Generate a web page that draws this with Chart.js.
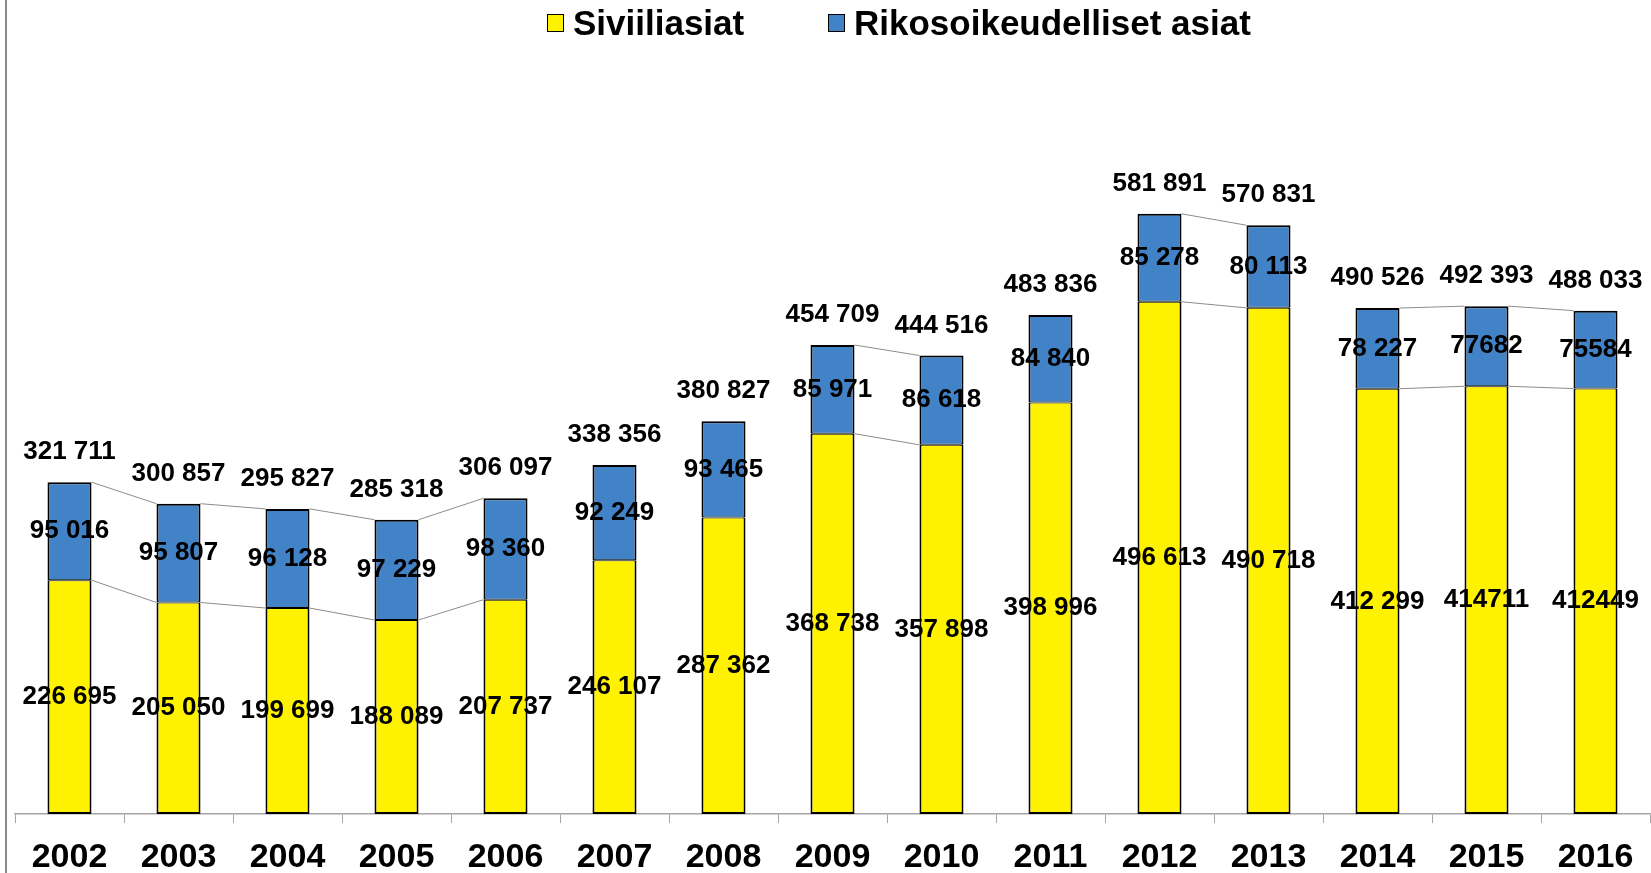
<!DOCTYPE html>
<html lang="fi">
<head>
<meta charset="utf-8">
<script src="https://cdn.jsdelivr.net/npm/chart.js@4.4.1/dist/chart.umd.min.js"></script>
<style>
  body { margin: 0; background: #fff; }
  #wrap { position: relative; width: 1651px; height: 873px; font-family: "Liberation Sans", Arial, sans-serif; }
  #kehys { position: absolute; left: 5px; top: 0; bottom: 0; border-left: 2px solid #8a8a8a; }
  .item { position: absolute; top: 3px; display: flex; align-items: center; font-weight: bold; font-size: 35px; line-height: 40px; color: #000; white-space: nowrap; }
  .box { width: 15px; height: 16px; border: 1.5px solid #000; margin-right: 9px; }
</style>
</head>
<body>
<div id="wrap">
  <canvas id="kaavio"></canvas>
  <div id="kehys"></div>
  <div id="legend"></div>
</div>
<script>
const VUODET = ['2002', '2003', '2004', '2005', '2006', '2007', '2008', '2009', '2010', '2011', '2012', '2013', '2014', '2015', '2016'];
const SIVIILI = [226695, 205050, 199699, 188089, 207737, 246107, 287362, 368738, 357898, 398996, 496613, 490718, 412299, 414711, 412449];
const RIKOS = [95016, 95807, 96128, 97229, 98360, 92249, 93465, 85971, 86618, 84840, 85278, 80113, 78227, 77682, 75584];
const YHTEENSA = [321711, 300857, 295827, 285318, 306097, 338356, 380827, 454709, 444516, 483836, 581891, 570831, 490526, 492393, 488033];
// näissä vuosissa osien luvut on kirjoitettu ilman välilyöntiä
const ILMAN_VALIA = ['2015', '2016'];
// sarjaviivat vain näiden vuosien väliin (alkuperäinen on koottu useasta kuvasta)
const VIIVAT_ALKAEN = ['2002', '2003', '2004', '2005', '2009', '2012', '2014', '2015'];

const FONTTI = '"Liberation Sans", Arial, sans-serif';
const SARJAT = [
  { nimi: 'Siviiliasiat', data: SIVIILI, vari: '#FFF200', vasen: 547, reuna: { top: 1, left: 2, right: 2, bottom: 2 } },
  { nimi: 'Rikosoikeudelliset asiat', data: RIKOS, vari: '#4282C6', vasen: 828, reuna: { top: 2, left: 2, right: 2, bottom: 1 } },
];

function muotoile(arvo, vali) {
  const s = String(arvo);
  if (!vali) return s;
  return s.replace(/\B(?=(\d{3})+(?!\d))/g, ' ');
}

const sarjaviivat = {
  id: 'sarjaviivat',
  afterDatasetsDraw(chart) {
    const { ctx } = chart;
    ctx.save();
    ctx.strokeStyle = '#8c8c8c';
    ctx.lineWidth = 1;
    chart.data.datasets.forEach((ds, di) => {
      const palkit = chart.getDatasetMeta(di).data;
      for (let i = 0; i < palkit.length - 1; i++) {
        if (!VIIVAT_ALKAEN.includes(VUODET[i])) continue;
        const a = palkit[i], b = palkit[i + 1];
        ctx.beginPath();
        ctx.moveTo(a.x + a.width / 2, a.y);
        ctx.lineTo(b.x - b.width / 2, b.y);
        ctx.stroke();
      }
    });
    ctx.restore();
  }
};

const arvoTekstit = {
  id: 'arvoTekstit',
  afterDatasetsDraw(chart) {
    const { ctx, scales: { x, y } } = chart;
    ctx.save();
    ctx.font = `bold 26px ${FONTTI}`;
    ctx.fillStyle = '#000';
    ctx.textAlign = 'center';
    ctx.textBaseline = 'middle';
    chart.data.datasets.forEach((ds, di) => {
      chart.getDatasetMeta(di).data.forEach((palkki, i) => {
        const vali = !ILMAN_VALIA.includes(VUODET[i]);
        ctx.fillText(muotoile(ds.data[i], vali), palkki.x, (palkki.y + palkki.base) / 2);
      });
    });
    YHTEENSA.forEach((arvo, i) => {
      ctx.fillText(muotoile(arvo, true), x.getPixelForValue(i), y.getPixelForValue(arvo) - 30);
    });
    ctx.restore();
  }
};

function vulLegenda() {
  const legend = document.getElementById('legend');
  SARJAT.forEach(s => {
    const item = document.createElement('div');
    item.className = 'item';
    item.style.left = s.vasen + 'px';
    item.innerHTML = `<span class="box" style="background:${s.vari}"></span>${s.nimi}`;
    legend.appendChild(item);
  });
}

function tekenKaavio() {
  new Chart(document.getElementById('kaavio'), {
    type: 'bar',
    data: {
      labels: VUODET,
      datasets: SARJAT.map(s => ({
        label: s.nimi,
        data: s.data,
        backgroundColor: s.vari,
        borderColor: '#000',
        borderWidth: s.reuna,
        borderSkipped: false,
        barPercentage: 0.404,
        categoryPercentage: 1,
      })),
    },
    options: {
      responsive: true,
      maintainAspectRatio: false,
      animation: false,
      layout: { padding: { top: 92, left: 15, right: 1, bottom: 0 } },
      plugins: { legend: { display: false }, tooltip: { enabled: false } },
      scales: {
        x: {
          stacked: true,
          afterFit(scale) { scale.height = 59; },
          grid: { drawOnChartArea: false, tickLength: 9, color: '#a6a6a6', offset: true },
          border: { color: '#a6a6a6', width: 1.5 },
          ticks: {
            color: '#000',
            padding: 16,
            maxRotation: 0,
            font: { family: FONTTI, size: 34, weight: 'bold', lineHeight: 1.09 },
          },
        },
        y: { stacked: true, display: false, min: 0, max: 700000 },
      },
    },
    plugins: [sarjaviivat, arvoTekstit],
  });
}

vulLegenda();
tekenKaavio();
</script>
</body>
</html>
